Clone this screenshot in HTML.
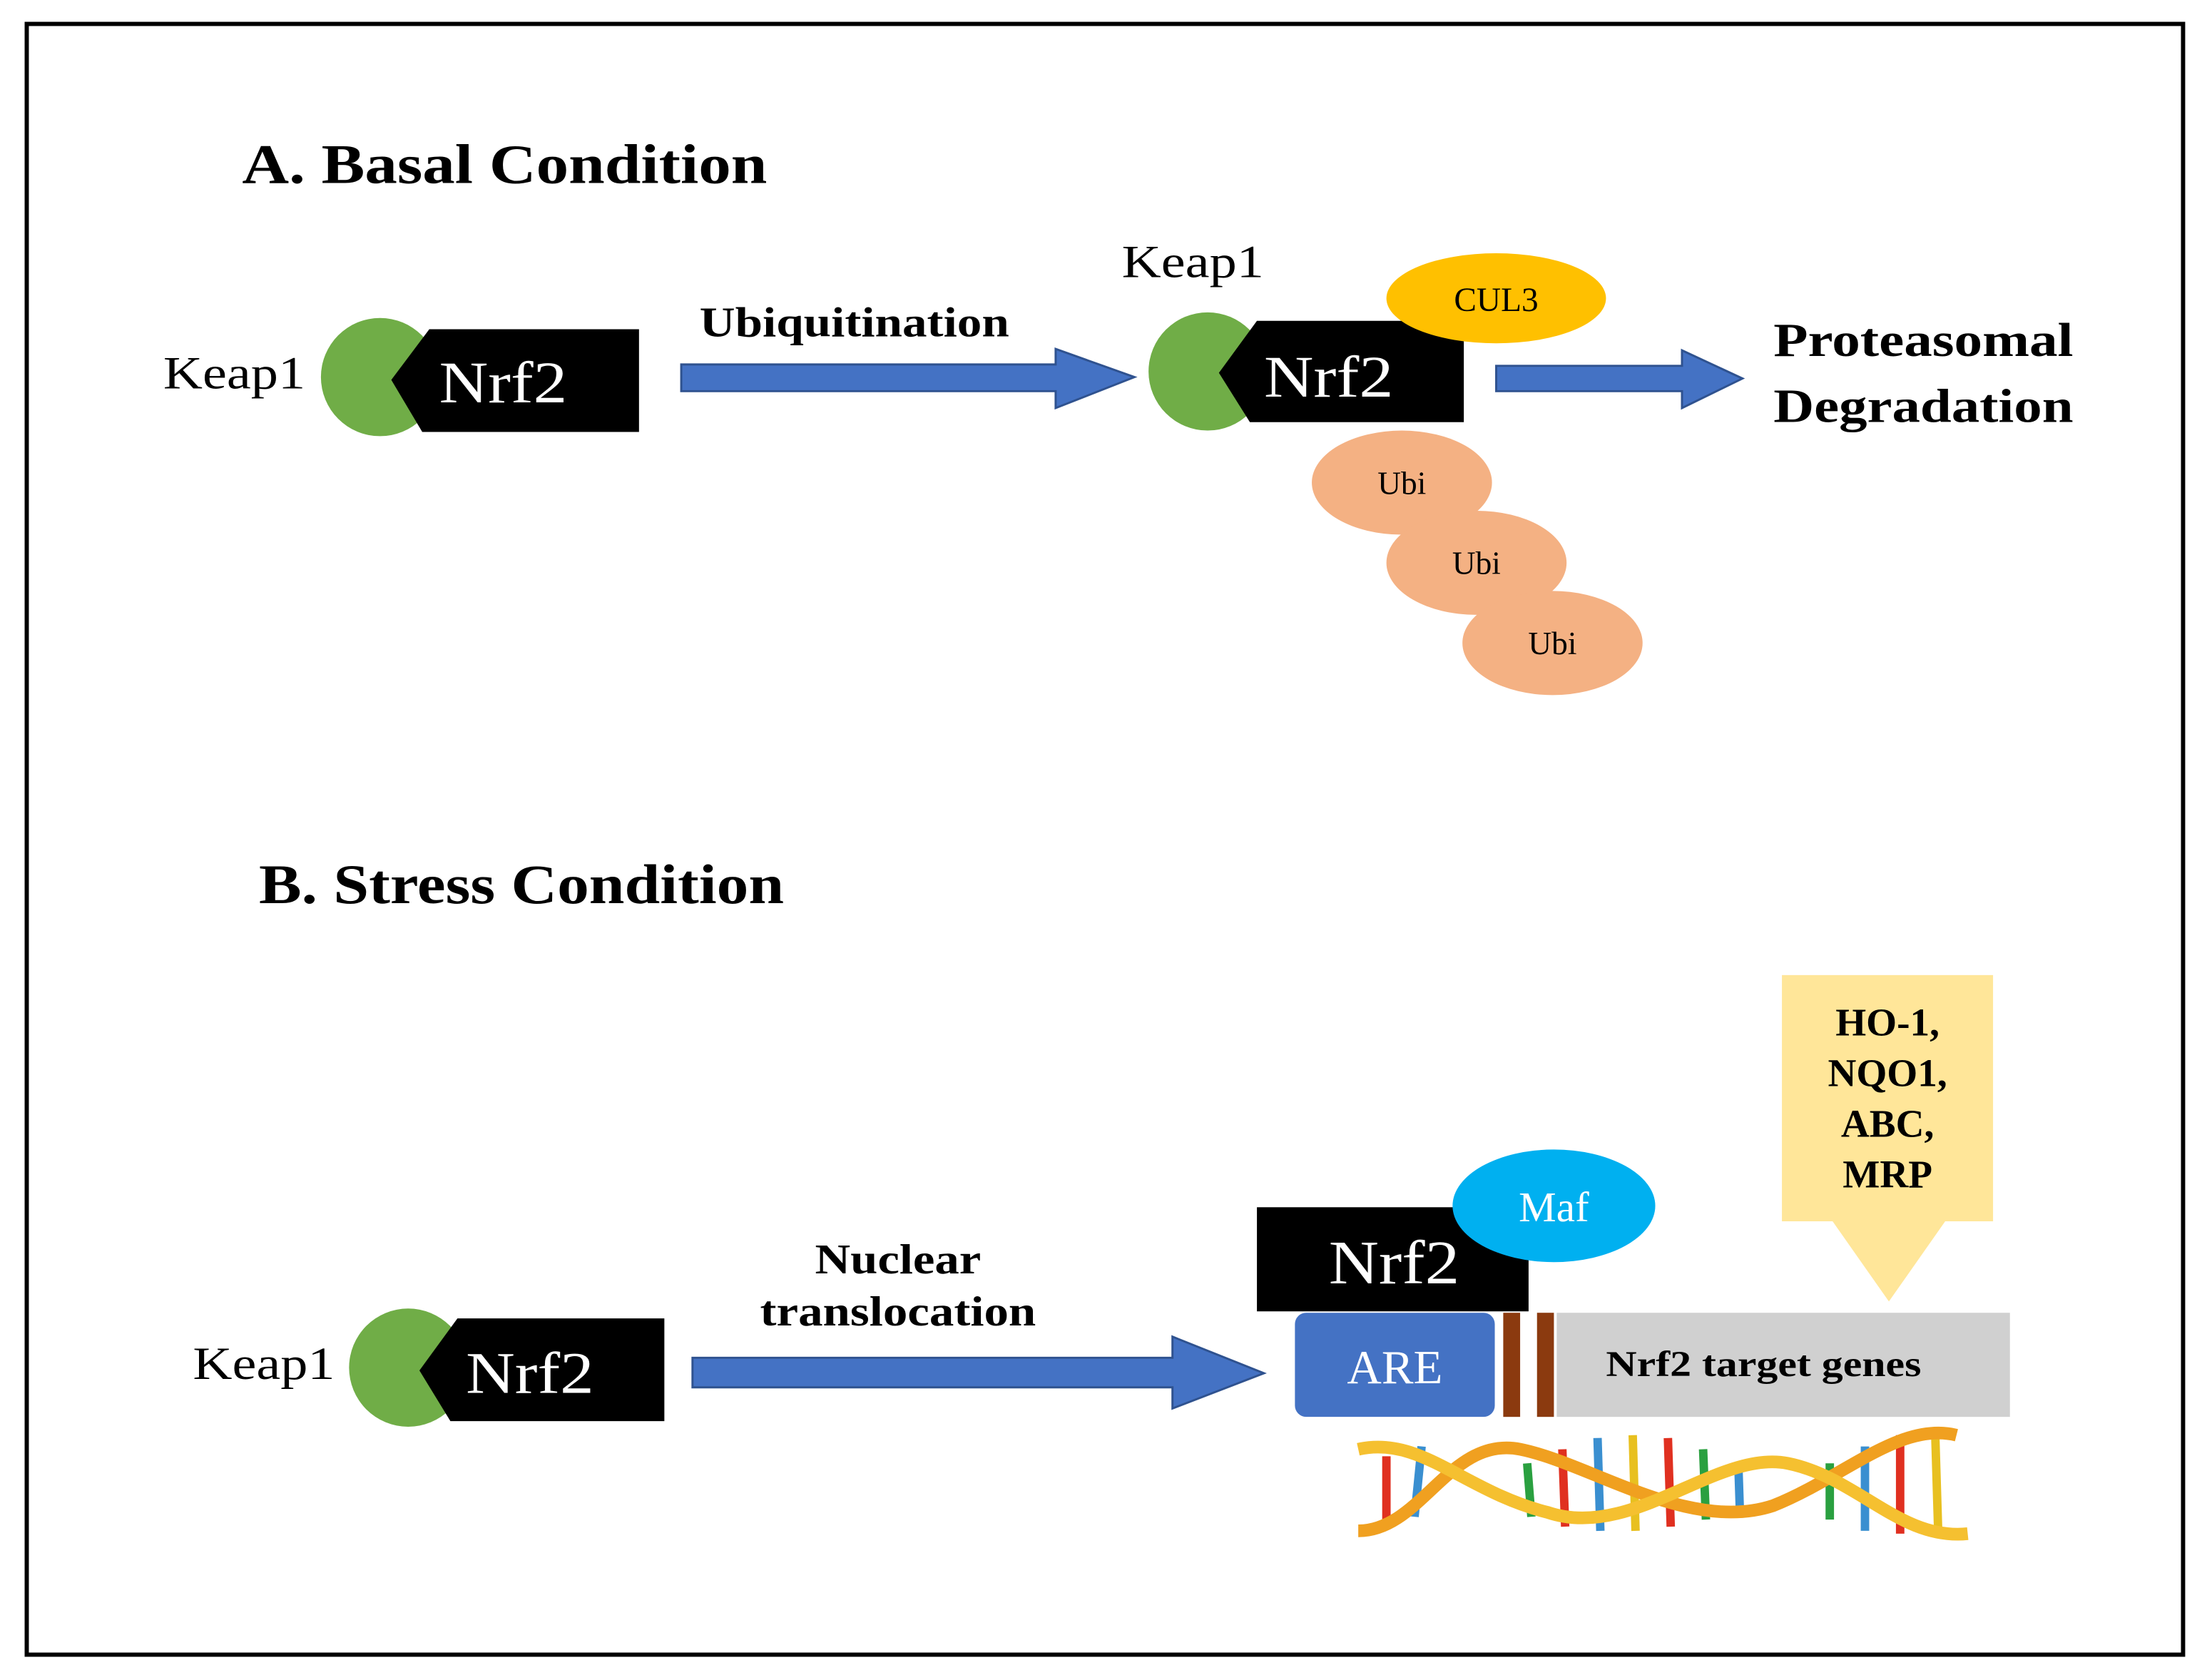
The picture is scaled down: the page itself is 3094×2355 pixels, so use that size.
<!DOCTYPE html>
<html><head><meta charset="utf-8"><style>
html,body{margin:0;padding:0;background:#fff;}
svg{display:block;}
text{font-family:"Liberation Serif",serif;}
</style></head><body>
<svg width="3094" height="2355" viewBox="0 0 1568 1194" preserveAspectRatio="none" xmlns="http://www.w3.org/2000/svg">
<rect x="0" y="0" width="1568" height="1194" fill="#fff"/>
<rect x="19" y="17" width="1532" height="1159" fill="none" stroke="#000" stroke-width="3"/>

<!-- A -->
<text x="172" y="130" font-size="40" font-weight="bold" textLength="373" lengthAdjust="spacingAndGlyphs">A.  Basal Condition</text>
<text x="116" y="276" font-size="33" textLength="101" lengthAdjust="spacingAndGlyphs">Keap1</text>
<circle cx="270" cy="268" r="42" fill="#70AD47"/>
<polygon points="305,234 454,234 454,307 300,307 278,270" fill="#000"/>
<text x="312" y="286" font-size="42" fill="#fff" textLength="91" lengthAdjust="spacingAndGlyphs">Nrf2</text>

<g fill="#4472C4" stroke="#2F528F" stroke-width="1.5">
<polygon points="484,259 750,259 750,248 806,268 750,290 750,278 484,278"/>
<polygon points="1063,260 1195,260 1195,249 1238,269 1195,290 1195,278 1063,278"/>
<polygon points="492,965 833,965 833,950 898,976 833,1001 833,986 492,986"/>
</g>
<text x="497" y="239" font-size="30" font-weight="bold" textLength="220" lengthAdjust="spacingAndGlyphs">Ubiquitination</text>

<text x="797" y="197" font-size="33" textLength="101" lengthAdjust="spacingAndGlyphs">Keap1</text>
<circle cx="858" cy="264" r="42" fill="#70AD47"/>
<polygon points="893,228 1040,228 1040,300 888,300 866,265" fill="#000"/>
<text x="898" y="282" font-size="42" fill="#fff" textLength="92" lengthAdjust="spacingAndGlyphs">Nrf2</text>
<ellipse cx="1063" cy="212" rx="78" ry="32" fill="#FFC000"/>
<text x="1063" y="221" font-size="24" text-anchor="middle">CUL3</text>
<g fill="#F4B183">
<ellipse cx="996" cy="343" rx="64" ry="37"/>
<ellipse cx="1049" cy="400" rx="64" ry="37"/>
<ellipse cx="1103" cy="457" rx="64" ry="37"/>
</g>
<text x="996" y="351" font-size="23" text-anchor="middle">Ubi</text>
<text x="1049" y="408" font-size="23" text-anchor="middle">Ubi</text>
<text x="1103" y="465" font-size="23" text-anchor="middle">Ubi</text>
<text x="1260" y="253" font-size="34" font-weight="bold" textLength="213" lengthAdjust="spacingAndGlyphs">Proteasomal</text>
<text x="1260" y="300" font-size="34" font-weight="bold" textLength="213" lengthAdjust="spacingAndGlyphs">Degradation</text>

<!-- B -->
<text x="184" y="642" font-size="40" font-weight="bold" textLength="373" lengthAdjust="spacingAndGlyphs">B. Stress Condition</text>
<text x="137" y="980" font-size="33" textLength="101" lengthAdjust="spacingAndGlyphs">Keap1</text>
<circle cx="290" cy="972" r="42" fill="#70AD47"/>
<polygon points="325,937 472,937 472,1010 320,1010 298,974" fill="#000"/>
<text x="331" y="990" font-size="42" fill="#fff" textLength="91" lengthAdjust="spacingAndGlyphs">Nrf2</text>
<text x="579" y="905" font-size="30" font-weight="bold" textLength="118" lengthAdjust="spacingAndGlyphs">Nuclear</text>
<text x="540" y="942" font-size="30" font-weight="bold" textLength="196" lengthAdjust="spacingAndGlyphs">translocation</text>

<rect x="1266" y="693" width="150" height="175" fill="#FFE699"/>
<polygon points="1302,868 1382,868 1342,925" fill="#FFE699"/>
<g font-size="28" font-weight="bold" text-anchor="middle">
<text x="1341" y="736">HO-1,</text>
<text x="1341" y="772">NQO1,</text>
<text x="1341" y="808">ABC,</text>
<text x="1341" y="844">MRP</text>
</g>

<rect x="893" y="858" width="193" height="74" fill="#000"/>
<text x="944" y="912" font-size="44" fill="#fff" textLength="93" lengthAdjust="spacingAndGlyphs">Nrf2</text>
<ellipse cx="1104" cy="857" rx="72" ry="40" fill="#00B0F0"/>
<text x="1104" y="868" font-size="30" fill="#fff" text-anchor="middle">Maf</text>

<rect x="920" y="933" width="142" height="74" rx="8" fill="#4472C4"/>
<text x="991" y="983" font-size="34" fill="#fff" text-anchor="middle">ARE</text>
<rect x="1068" y="933" width="12" height="74" fill="#8B3A0F"/>
<rect x="1092" y="933" width="12" height="74" fill="#8B3A0F"/>
<rect x="1106" y="933" width="322" height="74" fill="#D0D0D0"/>
<text x="1141" y="978" font-size="26" font-weight="bold" textLength="224" lengthAdjust="spacingAndGlyphs">Nrf2 target genes</text>

<!-- DNA -->
<g stroke-width="6">
<line x1="985" y1="1035" x2="985" y2="1080" stroke="#E03020"/>
<line x1="1010" y1="1028" x2="1005" y2="1078" stroke="#3A8FD0"/>
<line x1="1085" y1="1040" x2="1088" y2="1078" stroke="#2AA040"/>
<line x1="1110" y1="1030" x2="1112" y2="1085" stroke="#E03020"/>
<line x1="1135" y1="1022" x2="1137" y2="1088" stroke="#3A8FD0"/>
<line x1="1160" y1="1020" x2="1162" y2="1088" stroke="#E8C020"/>
<line x1="1185" y1="1022" x2="1187" y2="1085" stroke="#E03020"/>
<line x1="1210" y1="1030" x2="1212" y2="1080" stroke="#2AA040"/>
<line x1="1235" y1="1040" x2="1236" y2="1070" stroke="#3A8FD0"/>
<line x1="1300" y1="1040" x2="1300" y2="1080" stroke="#2AA040"/>
<line x1="1325" y1="1028" x2="1325" y2="1088" stroke="#3A8FD0"/>
<line x1="1350" y1="1020" x2="1350" y2="1090" stroke="#E03020"/>
<line x1="1375" y1="1022" x2="1377" y2="1088" stroke="#E8C020"/>
</g>
<path d="M965,1088 C1010,1088 1030,1020 1080,1030 C1130,1040 1200,1090 1260,1070 C1310,1050 1350,1010 1390,1020" fill="none" stroke="#F0A020" stroke-width="9"/>
<path d="M965,1030 C1010,1020 1040,1060 1100,1075 C1160,1095 1220,1030 1270,1040 C1320,1050 1350,1095 1398,1090" fill="none" stroke="#F5C030" stroke-width="9"/>
</svg>
</body></html>
